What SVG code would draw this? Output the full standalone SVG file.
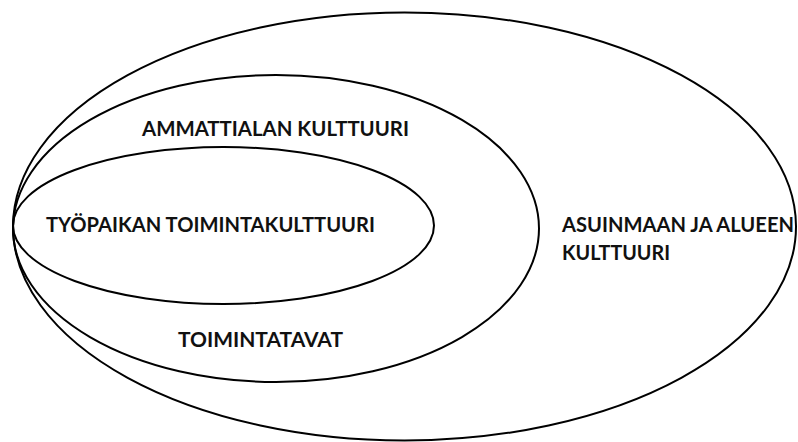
<svg xmlns="http://www.w3.org/2000/svg" width="798" height="442" viewBox="0 0 798 442">
<style>
.e{fill:none;stroke:#000;stroke-width:2}
.t{font-family:Lato,"Open Sans","Liberation Sans",sans-serif;font-weight:bold;font-size:20px;fill:#111}
</style>
<rect width="798" height="442" fill="#fff"/>
<g id="outer">
<ellipse class="e" cx="404.5" cy="226.5" rx="391.5" ry="214"/>
<text class="t" x="562" y="232" textLength="232" lengthAdjust="spacingAndGlyphs">ASUINMAAN JA ALUEEN</text>
<text class="t" x="562" y="260" textLength="108" lengthAdjust="spacingAndGlyphs">KULTTUURI</text>
</g>
<g id="middle">
<ellipse class="e" cx="276" cy="228.5" rx="263" ry="153.5"/>
<text class="t" x="142" y="136" textLength="267" lengthAdjust="spacingAndGlyphs">AMMATTIALAN KULTTUURI</text>
<text class="t" x="178" y="347" textLength="165" lengthAdjust="spacingAndGlyphs">TOIMINTATAVAT</text>
</g>
<g id="inner">
<ellipse class="e" cx="223.5" cy="225.5" rx="210.5" ry="78.5"/>
<text class="t" x="46" y="232" textLength="329" lengthAdjust="spacingAndGlyphs">TYÖPAIKAN TOIMINTAKULTTUURI</text>
</g>
<g id="connectors"/>
</svg>
